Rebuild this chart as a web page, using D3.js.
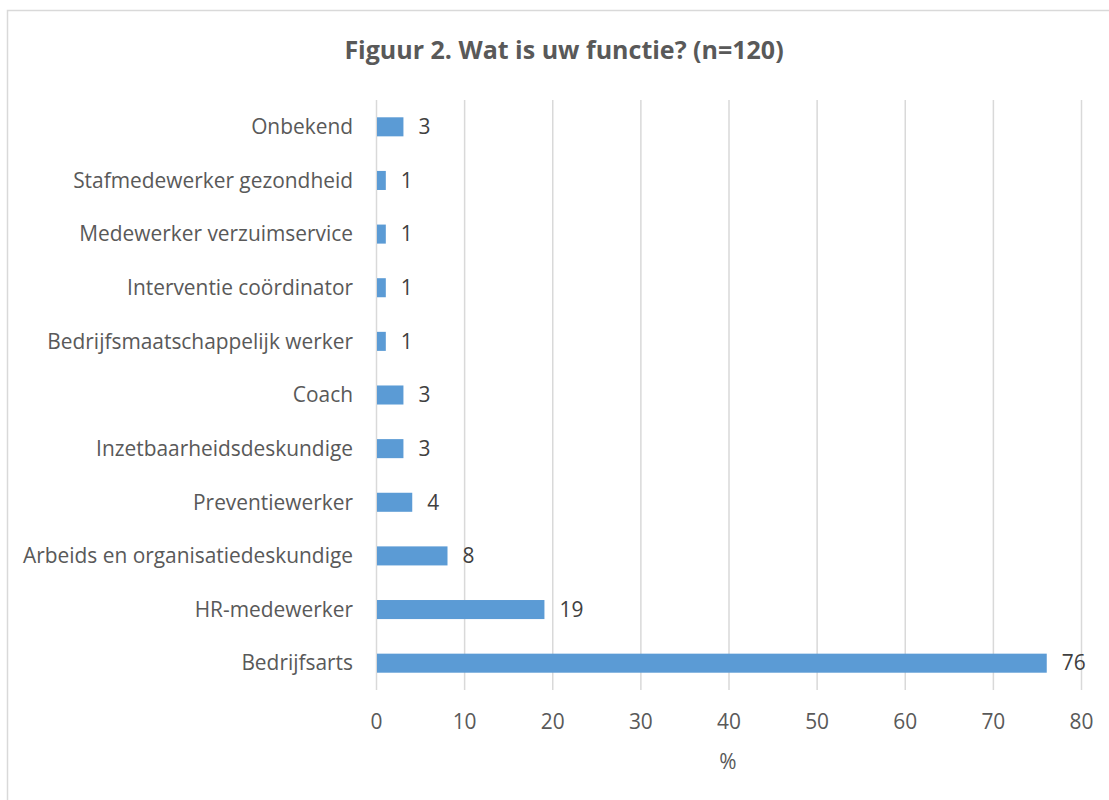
<!DOCTYPE html>
<html><head><meta charset="utf-8">
<script src="https://cdn.jsdelivr.net/npm/d3@7"></script>
<style>body{margin:0;background:#fff}</style>
</head><body>
<svg id="c" width="1109" height="800"></svg>
<script>
const categories = ["Onbekend","Stafmedewerker gezondheid","Medewerker verzuimservice","Interventie coördinator","Bedrijfsmaatschappelijk werker","Coach","Inzetbaarheidsdeskundige","Preventiewerker","Arbeids en organisatiedeskundige","HR-medewerker","Bedrijfsarts"];
const values = [3,1,1,1,1,3,3,4,8,19,76];
const xTicks = [0,10,20,30,40,50,60,70,80];
const title = "Figuur 2. Wat is uw functie? (n=120)";
const xTitle = "%";

const svg = d3.select("#c");
const font = "'Open Sans', sans-serif";
const grey = "#595959";
const fs = 20.9;
svg.append("rect").attr("x",7.5).attr("y",10.5).attr("width",1110).attr("height",800).attr("fill","#fff").attr("stroke","#d9d9d9").attr("stroke-width",1.5);

const x = d3.scaleLinear().domain([0,80]).range([376,1081]);
const y = d3.scaleBand().domain(categories).range([100,690]).paddingInner(0.645).paddingOuter(0.3225);

svg.append("g").selectAll("line").data(xTicks).join("line")
  .attr("x1",d=>x(d)+0.5).attr("x2",d=>x(d)+0.5).attr("y1",100).attr("y2",690)
  .attr("stroke","#d9d9d9").attr("stroke-width",1.5);

svg.append("g").selectAll("rect").data(values).join("rect")
  .attr("x",x(0)+1).attr("y",(d,i)=>y(categories[i]))
  .attr("width",d=>x(d)-x(0)).attr("height",y.bandwidth())
  .attr("fill","#5b9bd5");

svg.append("g").selectAll("text").data(values).join("text")
  .attr("x",d=>x(d)+16).attr("y",(d,i)=>y(categories[i])+y.bandwidth()/2)
  .attr("dy","0.35em").attr("font-family",font).attr("font-size",fs).attr("fill","#404040")
  .text(d=>d);

svg.append("g").selectAll("text").data(categories).join("text")
  .attr("x",353).attr("y",d=>y(d)+y.bandwidth()/2).attr("dy","0.35em")
  .attr("text-anchor","end").attr("font-family",font).attr("font-size",fs).attr("fill",grey)
  .text(d=>d);

svg.append("g").selectAll("text").data(xTicks).join("text")
  .attr("x",d=>x(d)+0.5).attr("y",722).attr("dy","0.35em").attr("text-anchor","middle")
  .attr("font-family",font).attr("font-size",fs).attr("fill",grey).text(d=>d);

svg.append("text").attr("x",728).attr("y",762).attr("dy","0.35em").attr("text-anchor","middle")
  .attr("font-family",font).attr("font-size",fs).attr("fill",grey).text(xTitle);

svg.append("text").attr("x",564).attr("y",50).attr("dy","0.35em").attr("text-anchor","middle")
  .attr("font-family",font).attr("font-size",25).attr("font-weight","bold").attr("fill",grey).text(title);
</script>
</body></html>
